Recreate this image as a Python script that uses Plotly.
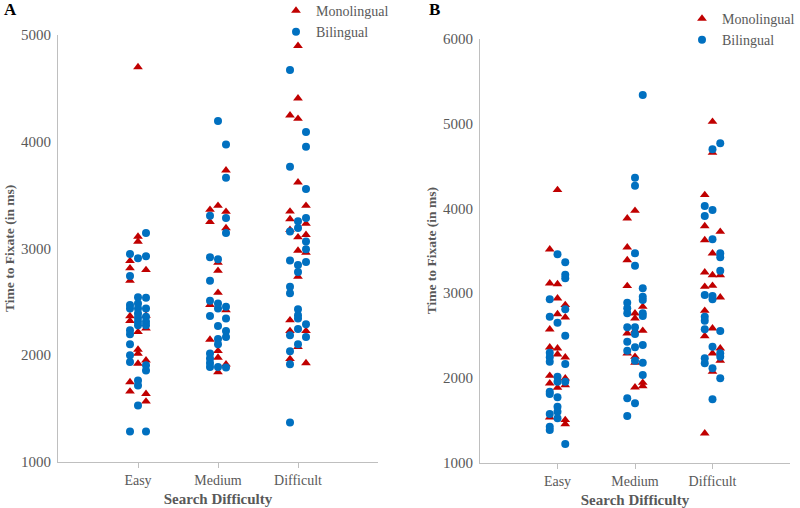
import plotly.graph_objects as go

CATEGORIES = ["Easy", "Medium", "Difficult"]
SERIES = ["Monolingual", "Bilingual"]
A_TICKS = [1000, 2000, 3000, 4000, 5000]
B_TICKS = [1000, 2000, 3000, 4000, 5000, 6000]

# Each list: three jitter lanes (left, middle, right) of times in ms
A_MONO_EASY = [[2882, 2814, 2697, 2365, 2320, 1746, 1659],
               [4700, 3111, 3064, 2217, 2051, 2014, 1920],
               [2798, 2370, 2249, 1951, 1637, 1565]]
A_BI_EASY = [[2948, 2741, 2468, 2437, 2233, 2195, 2101, 1998, 1934, 1282],
             [2908, 2541, 2484, 2437, 2390, 2349, 2311, 2280, 1762, 1715, 1527],
             [3143, 2926, 2537, 2437, 2358, 2311, 2280, 1904, 1856, 1282]]
A_MONO_MED = [[3362, 3249, 2471, 2145],
              [3400, 2866, 2791, 2584, 2038, 1976, 1840],
              [3732, 3344, 3190, 2421, 1913]]
A_BI_MED = [[3306, 2917, 2697, 2509, 2365, 2014, 1967, 1925, 1887],
            [4193, 2898, 2484, 2437, 2271, 2151, 2101, 1887],
            [3974, 3661, 3284, 3143, 2452, 2343, 2226, 2170, 1882]]
A_MONO_DIFF = [[4247, 3346, 3275, 3174, 2327, 2226, 1963],
               [4899, 4407, 4216, 3619, 3105, 2979, 2735, 2076],
               [3400, 3231, 3127, 2961, 2226, 1925]]
A_BI_DIFF = [[4673, 3764, 3158, 2885, 2640, 2578, 2186, 2035, 1913, 1367],
             [3253, 3190, 2845, 2779, 2428, 2374, 2343, 2245, 2101],
             [4090, 3952, 3557, 3284, 3064, 2992, 2873, 2289, 2170]]

B_MONO_EASY = [[3516, 3116, 2573, 2361, 2026, 1936, 1535],
               [4216, 3107, 2939, 2753, 2349, 2278, 1884],
               [2860, 2715, 2243, 1995, 1916, 1504, 1456]]
B_BI_EASY = [[2927, 2722, 2297, 2243, 2191, 1837, 1810, 1574, 1425, 1386],
             [3458, 2651, 2014, 1955, 1771, 1660, 1601, 1524],
             [3363, 3217, 3175, 2809, 2498, 2164, 1955, 1220]]
B_MONO_MED = [[3882, 3540, 3390, 3084, 2526, 2290],
              [3972, 2762, 2703, 2557, 2250, 2179, 1889],
              [2840, 2557, 1943, 1904]]
B_BI_MED = [[2887, 2821, 2762, 2597, 2427, 2321, 1759, 1551],
            [4361, 4267, 3469, 3323, 2597, 2518, 2361, 2203, 1700],
            [5336, 3057, 2958, 2919, 2762, 2730, 2388, 2179, 2034]]
B_MONO_DIFF = [[4157, 3791, 3626, 3245, 3075, 2792, 2494, 1347],
               [5021, 4656, 3469, 3213, 3087, 2585, 2290, 2073],
               [3724, 3213, 2950, 2349, 2203]]
B_BI_DIFF = [[4027, 3909, 2978, 2722, 2675, 2573, 2231, 2172],
             [4696, 3980, 3634, 2966, 2927, 2368, 2113, 1748],
             [4767, 3469, 3422, 3264, 2553, 2290, 2250, 1995]]

RED = "#C00000"
BLUE = "#0070C0"
SERIF = "Liberation Serif, Times New Roman, serif"
GRAY_TXT = "#595959"
AXIS_LINE = "#BFBFBF"

W, H = 800, 508
LANE_OFFSETS = [-0.1, 0.0, 0.1]


def build(groups):
    xs, ys = [], []
    for ci, lanes in enumerate(groups):
        for li, lane in enumerate(lanes):
            for v in lane:
                xs.append(ci + 1 + LANE_OFFSETS[li])
                ys.append(v)
    return xs, ys


fig = go.Figure()

panels = [
    ("x", "y", "legend", [A_MONO_EASY, A_MONO_MED, A_MONO_DIFF], [A_BI_EASY, A_BI_MED, A_BI_DIFF]),
    ("x2", "y2", "legend2", [B_MONO_EASY, B_MONO_MED, B_MONO_DIFF], [B_BI_EASY, B_BI_MED, B_BI_DIFF]),
]
for xa, ya, lg, mono, bi in panels:
    x, y = build(mono)
    fig.add_trace(go.Scatter(x=x, y=y, mode="markers", name=SERIES[0], xaxis=xa, yaxis=ya,
                             legend=lg, cliponaxis=False,
                             marker=dict(symbol="triangle-up", size=8.5, color=RED, line=dict(width=0))))
    x, y = build(bi)
    fig.add_trace(go.Scatter(x=x, y=y, mode="markers", name=SERIES[1], xaxis=xa, yaxis=ya,
                             legend=lg, cliponaxis=False,
                             marker=dict(symbol="circle", size=8, color=BLUE, line=dict(width=0))))


def px_x(p):
    return p / W


def px_y(p):
    return 1 - p / H


common_x = dict(tickvals=[1, 2, 3], ticktext=CATEGORIES, showgrid=False, zeroline=False,
                showline=True, linecolor=AXIS_LINE, linewidth=1, ticks="outside", ticklen=5,
                tickcolor=AXIS_LINE, tickfont=dict(family=SERIF, size=14, color=GRAY_TXT),
                title=dict(text="<b>Search Difficulty</b>", font=dict(family=SERIF, size=15, color=GRAY_TXT),
                           standoff=6))
common_y = dict(showgrid=False, zeroline=False, showline=True, linecolor=AXIS_LINE, linewidth=1,
                ticks="outside", ticklen=3, tickcolor="rgba(0,0,0,0)",
                tickfont=dict(family=SERIF, size=15, color=GRAY_TXT),
                title=dict(text="<b>Time to Fixate (in ms)</b>", font=dict(family=SERIF, size=13.5, color=GRAY_TXT),
                           standoff=3))

fig.update_layout(
    width=W, height=H, margin=dict(l=0, r=0, t=0, b=0, autoexpand=False),
    paper_bgcolor="white", plot_bgcolor="white",
    xaxis=dict(domain=[px_x(58), px_x(378)], anchor="y", range=[0, 4], **common_x),
    yaxis=dict(domain=[px_y(461.7), px_y(35)], anchor="x", range=[1000, 5000], tickvals=A_TICKS, **common_y),
    xaxis2=dict(domain=[px_x(480), px_x(790)], anchor="y2", range=[0, 4], **common_x),
    yaxis2=dict(domain=[px_y(462.7), px_y(38.7)], anchor="x2", range=[1000, 6000], tickvals=B_TICKS, **common_y),
    legend=dict(x=px_x(276), y=px_y(-5), xanchor="left", yanchor="top", bgcolor="rgba(0,0,0,0)",
                font=dict(family=SERIF, size=14, color=GRAY_TXT), itemwidth=30, tracegroupgap=0),
    legend2=dict(x=1, y=px_y(3), xanchor="right", yanchor="top", bgcolor="rgba(0,0,0,0)",
                 font=dict(family=SERIF, size=14, color=GRAY_TXT), itemwidth=30, tracegroupgap=0),
    showlegend=True,
    hovermode=False,
    annotations=[
        dict(text="<b>A</b>", x=px_x(2), y=px_y(10), xref="paper", yref="paper", xanchor="left", yanchor="middle",
             showarrow=False, font=dict(family=SERIF, size=17, color="black")),
        dict(text="<b>B</b>", x=px_x(427), y=px_y(10), xref="paper", yref="paper", xanchor="left", yanchor="middle",
             showarrow=False, font=dict(family=SERIF, size=17, color="black")),
    ],
)

fig.write_html("out.html", config={"displayModeBar": False, "staticPlot": True},
               post_script="document.body.style.margin='0';document.body.style.padding='0';")
